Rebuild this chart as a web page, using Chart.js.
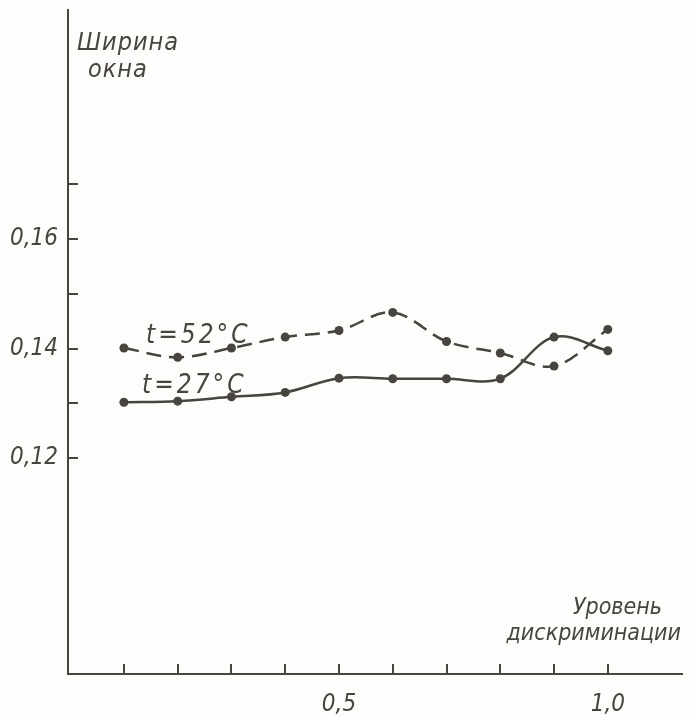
<!DOCTYPE html>
<html>
<head>
<meta charset="utf-8">
<script src="https://cdn.jsdelivr.net/npm/chart.js@4"></script>
<style>
html,body{margin:0;padding:0;background:#fdfdfc;}
#wrap{width:696px;height:717px;position:relative;}
</style>
</head>
<body>
<div id="wrap"><canvas id="c" width="696" height="717"></canvas></div>
<script>
// ---- data ----
const levels = [0.1, 0.2, 0.3, 0.4, 0.5, 0.6, 0.7, 0.8, 0.9, 1.0];
const width27 = [0.1302, 0.1304, 0.1312, 0.1320, 0.1346, 0.1345, 0.1345, 0.1345, 0.1421, 0.1396];
const width52 = [0.1401, 0.1384, 0.1401, 0.1421, 0.1433, 0.1466, 0.1413, 0.1392, 0.1368, 0.1435];
const seriesNames = ['t = 27°C', 't = 52°C'];
const xTickMarks = [0.1, 0.2, 0.3, 0.4, 0.5, 0.6, 0.7, 0.8, 0.9, 1.0];
const xTickLabels = [0.5, 1.0];
const yTickMarks = [0.12, 0.13, 0.14, 0.15, 0.16, 0.17];
const yTickLabels = [0.12, 0.14, 0.16];
const yTitle = ['Ширина', 'окна'];
const xTitle = ['Уровень', 'дискриминации'];

const INK = '#48443e';
const FONT = "'Liberation Sans Narrow', 'DejaVu Sans Condensed', 'Liberation Sans', sans-serif";

function pts(ys){ return levels.map((x,i)=>({x:x, y:ys[i]})); }
function fmt(v, d){ return v.toFixed(d).replace('.', ','); }

const decor = {
  id: 'decor',
  beforeDraw(chart){
    const c = chart.ctx;
    c.save();
    c.fillStyle = '#fdfdfc';
    c.fillRect(0,0,chart.width,chart.height);
    c.restore();
  },
  afterDatasetsDraw(chart){
    const c = chart.ctx, xs = chart.scales.x, ys = chart.scales.y;
    const ax = xs.getPixelForValue(xs.min), ay = ys.getPixelForValue(ys.min);
    c.save();
    c.strokeStyle = INK; c.lineWidth = 2;
    c.beginPath();
    yTickMarks.forEach(v=>{ const p = Math.round(ys.getPixelForValue(v)); c.moveTo(ax, p); c.lineTo(ax+10, p); });
    xTickMarks.forEach(v=>{ const p = Math.round(xs.getPixelForValue(v)); c.moveTo(p, ay); c.lineTo(p, ay-10); });
    c.stroke();
    c.fillStyle = INK;
    c.font = 'italic 25px ' + FONT;
    c.textAlign = 'left'; c.textBaseline = 'alphabetic';
    c.letterSpacing = '1px';
    c.fillText(yTitle[0], 77, 50);
    c.fillText(yTitle[1], 88, 77);
    c.letterSpacing = '0px';
    c.font = 'italic 23px ' + FONT;
    c.textAlign = 'right';
    c.fillText(xTitle[0], 662, 614);
    c.fillText(xTitle[1], 681, 640);
    c.font = 'italic 26px ' + FONT;
    c.textAlign = 'left';
    c.letterSpacing = '3px';
    c.fillText(seriesNames[1].replace(/ /g,''), 146, 343);
    c.fillText(seriesNames[0].replace(/ /g,''), 142, 393);
    c.restore();
  }
};

new Chart(document.getElementById('c'), {
  type: 'line',
  data: {
    datasets: [
      { label: seriesNames[0], data: pts(width27), borderColor: INK, backgroundColor: INK,
        borderWidth: 2.5, pointRadius: 4.5, pointBorderWidth: 0, tension: 0.35, fill: false },
      { label: seriesNames[1], data: pts(width52), borderColor: INK, backgroundColor: INK,
        borderWidth: 2.5, borderDash: [15, 8], pointRadius: 4.5, pointBorderWidth: 0, tension: 0.35, fill: false }
    ]
  },
  plugins: [decor],
  options: {
    responsive: false,
    animation: false,
    layout: { padding: { top: 10, right: 14, left: 0, bottom: 0 } },
    plugins: { legend: { display: false }, tooltip: { enabled: false } },
    scales: {
      x: {
        type: 'linear', min: -0.004, max: 1.138,
        grid: { display: false, drawTicks: false },
        border: { display: true, color: INK, width: 2 },
        afterBuildTicks: s => { s.ticks = xTickLabels.map(v=>({value:v})); },
        ticks: { color: INK, padding: 16, font: { family: FONT, size: 24, style: 'italic' },
                 callback: v => fmt(v, 1), maxRotation: 0 },
        afterFit: s => { s.height = 43; s.paddingLeft = 0; s.paddingRight = 0; }
      },
      y: {
        type: 'linear', min: 0.0806, max: 0.2018,
        grid: { display: false, drawTicks: false },
        border: { display: true, color: INK, width: 2 },
        afterBuildTicks: s => { s.ticks = yTickLabels.map(v=>({value:v})); },
        ticks: { color: INK, padding: 10, font: { family: FONT, size: 24, style: 'italic' },
                 callback: v => fmt(v, 2) },
        afterFit: s => { s.width = 68; s.paddingTop = 0; s.paddingBottom = 0; }
      }
    }
  }
});
</script>
</body>
</html>
